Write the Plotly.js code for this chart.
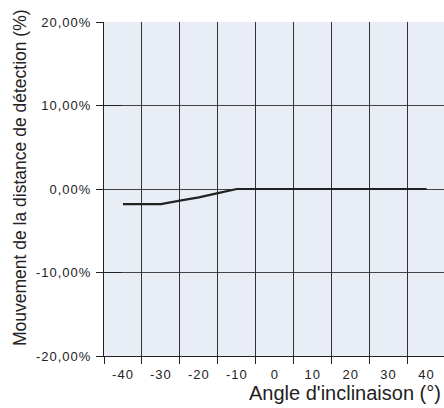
<!DOCTYPE html>
<html>
<head>
<meta charset="utf-8">
<script src="https://cdn.plot.ly/plotly-3.0.1.min.js"></script>
<style>
html,body{margin:0;padding:0;background:#fff;}
#chart{width:444px;height:408px;}
.xtick text,.ytick text{letter-spacing:1px;}
</style>
</head>
<body>
<div id="chart"></div>
<script>
// Data
const angles = [-40,-35,-30,-25,-20,-15,-10,-5,0,5,10,15,20,25,30,35,40];
const movement = [-1.8,-1.8,-1.8,-1.4,-1.0,-0.5,0,0,0,0,0,0,0,0,0,0,0];
const xLabelVals = [-40,-30,-20,-10,0,10,20,30,40];
const xLabelText = ['-40','-30','-20','-10','0','10','20','30','40'];
const xGridVals = [-45,-35,-25,-15,-5,5,15,25,35,45];
const yTickVals = [-20,-10,0,10,20];
const yTickText = ['-20,00%','-10,00%','0,00%','10,00%','20,00%'];
const yInnerTickVals = [-20,-10,10,20];
const xTitle = "Angle d'inclinaison (°)";
const yTitle = "Mouvement de la distance de détection (%)";

const FONT = 'Liberation Sans, Arial, Helvetica, sans-serif';
const data = [
  {x: angles, y: movement, type:'scatter', mode:'lines',
   line:{color:'#222222', width:2.2}, hoverinfo:'skip', xaxis:'x', yaxis:'y'},
  {x: angles, y: movement, type:'scatter', mode:'lines',
   line:{color:'rgba(0,0,0,0)', width:0}, hoverinfo:'skip', xaxis:'x2', yaxis:'y2', showlegend:false}
];
const layout = {
  width:444, height:408,
  margin:{l:104, r:0, t:22, b:52},
  paper_bgcolor:'#ffffff', plot_bgcolor:'#e9edf6',
  showlegend:false,
  font:{family:FONT, size:13, color:'#222'},
  xaxis:{range:[-45,44.6], tickvals:xLabelVals, ticktext:xLabelText, ticks:'', showgrid:false, zeroline:false,
         showline:false, ticklabelstandoff:9, tickfont:{family:FONT, size:13, color:'#222'}, fixedrange:true},
  xaxis2:{overlaying:'x', matches:'x', side:'bottom', anchor:'y', tickvals:xGridVals, ticks:'outside', ticklen:7,
          tickcolor:'#222', showticklabels:false, showgrid:true, gridcolor:'#333', gridwidth:1,
          zeroline:false, showline:true, linecolor:'#222', linewidth:1},
  yaxis:{range:[-20,20], tickvals:yTickVals, ticktext:yTickText, ticks:'outside', ticklen:7, tickcolor:'#222',
         showgrid:true, gridcolor:'#444', gridwidth:1, zeroline:false, showline:true, linecolor:'#222',
         ticklabelstandoff:2, tickfont:{family:FONT, size:13, color:'#222'}, fixedrange:true},
  yaxis2:{overlaying:'y', matches:'y', anchor:'x', side:'left', tickvals:yInnerTickVals, ticks:'inside', ticklen:18,
          tickcolor:'#222', tickwidth:1.5, showticklabels:false, showgrid:false, zeroline:false, showline:false},
  annotations:[
    {text:xTitle, xref:'paper', yref:'paper', x:1, y:-0.111, xanchor:'right', yanchor:'middle',
     showarrow:false, xshift:-1, font:{family:FONT, size:20, color:'#222'}},
    {text:yTitle, xref:'paper', yref:'paper', x:-0.247, y:0.533, xanchor:'center', yanchor:'middle',
     textangle:-90, showarrow:false, font:{family:FONT, size:17.5, color:'#222'}}
  ]
};
Plotly.newPlot('chart', data, layout, {displayModeBar:false, staticPlot:true});
</script>
</body>
</html>
